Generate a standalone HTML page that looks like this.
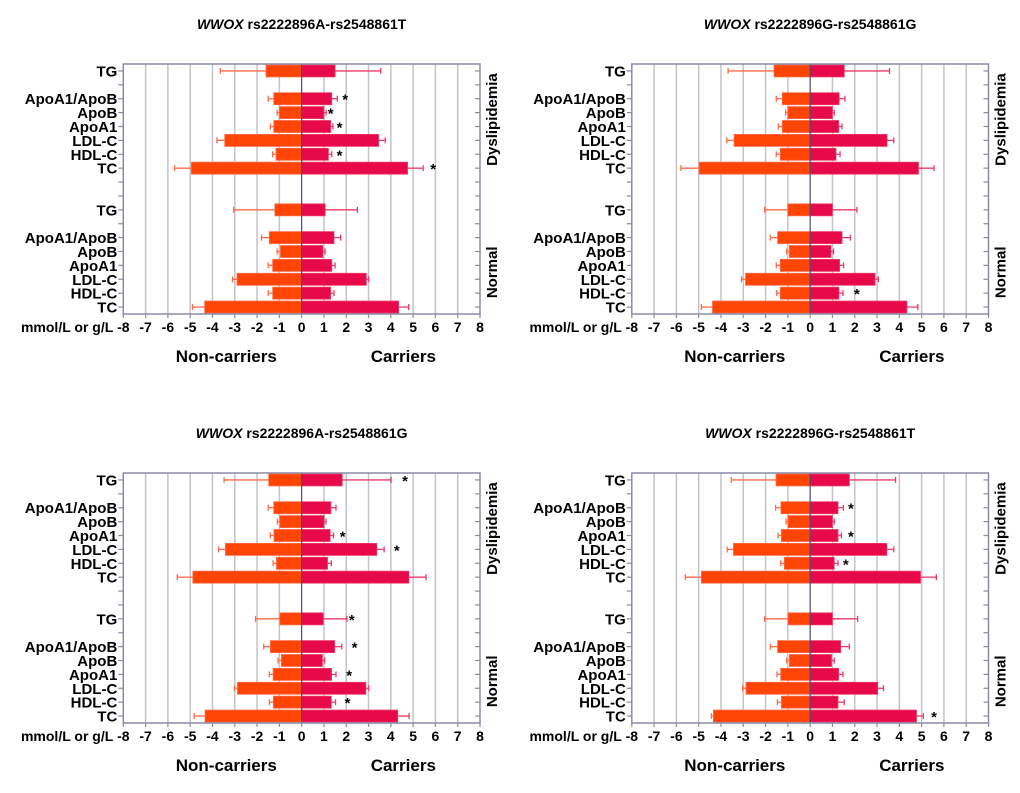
<!DOCTYPE html>
<html><head><meta charset="utf-8"><style>
body{margin:0;background:#fff;}
svg{display:block;font-family:"Liberation Sans",Arial,sans-serif;}
</style></head><body>
<svg id="fig" width="1020" height="793" viewBox="0 0 1020 793"></svg>
<script>
const categories=["TG","ApoA1/ApoB","ApoB","ApoA1","LDL-C","HDL-C","TC","TG","ApoA1/ApoB","ApoB","ApoA1","LDL-C","HDL-C","TC"];
const slots=[0,2,3,4,5,6,7,10,12,13,14,15,16,17];
const xTicks=[-8,-7,-6,-5,-4,-3,-2,-1,0,1,2,3,4,5,6,7,8];
const titles=["rs2222896A-rs2548861T","rs2222896G-rs2548861G","rs2222896A-rs2548861G","rs2222896G-rs2548861T"];
// panel 1 (top-left)
const p1Non=[-1.6,-1.25,-1.0,-1.25,-3.45,-1.15,-4.95,-1.2,-1.45,-0.95,-1.3,-2.9,-1.3,-4.35];
const p1NonErr=[-3.65,-1.5,-1.1,-1.4,-3.8,-1.3,-5.7,-3.05,-1.8,-1.1,-1.5,-3.1,-1.5,-4.9];
const p1Car=[1.5,1.35,1.0,1.3,3.45,1.2,4.75,1.05,1.45,0.95,1.35,2.9,1.3,4.35];
const p1CarErr=[3.55,1.6,1.1,1.4,3.75,1.35,5.45,2.5,1.75,1.05,1.5,3.0,1.45,4.8];
const p1Star=[null,1.95,1.3,1.7,null,1.7,5.9,null,null,null,null,null,null,null];
// panel 2 (top-right)
const p2Non=[-1.62,-1.25,-1.0,-1.25,-3.41,-1.34,-4.98,-1.0,-1.46,-0.93,-1.34,-2.9,-1.34,-4.38];
const p2NonErr=[-3.68,-1.52,-1.1,-1.43,-3.74,-1.52,-5.8,-2.04,-1.79,-1.05,-1.52,-3.08,-1.5,-4.88];
const p2Car=[1.53,1.3,1.0,1.28,3.45,1.16,4.86,1.0,1.43,0.93,1.32,2.91,1.29,4.34];
const p2CarErr=[3.56,1.56,1.08,1.43,3.75,1.34,5.56,2.1,1.8,1.05,1.5,3.06,1.47,4.83];
const p2Star=[null,null,null,null,null,null,null,null,null,null,null,null,2.1,null];
// panel 3 (bottom-left)
const p3Non=[-1.48,-1.25,-0.98,-1.24,-3.42,-1.13,-4.88,-0.98,-1.4,-0.91,-1.28,-2.88,-1.27,-4.33];
const p3NonErr=[-3.48,-1.5,-1.09,-1.4,-3.73,-1.28,-5.58,-2.07,-1.7,-1.06,-1.45,-3.01,-1.45,-4.82];
const p3Car=[1.82,1.31,1.01,1.28,3.37,1.16,4.81,0.97,1.48,0.93,1.34,2.88,1.33,4.31];
const p3CarErr=[4.01,1.54,1.09,1.43,3.7,1.33,5.58,2.03,1.8,1.03,1.54,3.0,1.52,4.82];
const p3Star=[4.64,null,null,1.84,4.27,null,null,2.25,2.37,null,2.13,null,2.06,null];
// panel 4 (bottom-right)
const p4Non=[-1.53,-1.31,-0.99,-1.29,-3.44,-1.16,-4.88,-0.99,-1.46,-0.93,-1.32,-2.88,-1.29,-4.34];
const p4NonErr=[-3.54,-1.55,-1.08,-1.44,-3.72,-1.32,-5.6,-2.04,-1.79,-1.05,-1.49,-3.03,-1.47,-4.43];
const p4Car=[1.76,1.25,1.0,1.25,3.44,1.08,4.95,1.0,1.37,0.96,1.28,3.03,1.25,4.77];
const p4CarErr=[3.83,1.49,1.08,1.4,3.75,1.25,5.66,2.13,1.76,1.08,1.47,3.29,1.53,5.08];
const p4Star=[null,1.83,null,1.83,null,1.6,null,null,null,null,null,null,null,5.56];

const panels=[
 {ox:0,oy:0,non:p1Non,nonErr:p1NonErr,car:p1Car,carErr:p1CarErr,star:p1Star},
 {ox:508.5,oy:0,non:p2Non,nonErr:p2NonErr,car:p2Car,carErr:p2CarErr,star:p2Star},
 {ox:0,oy:409,non:p3Non,nonErr:p3NonErr,car:p3Car,carErr:p3CarErr,star:p3Star},
 {ox:508.5,oy:409,non:p4Non,nonErr:p4NonErr,car:p4Car,carErr:p4CarErr,star:p4Star}
];
const NS="http://www.w3.org/2000/svg";
const svg=document.getElementById('fig');
function mk(tag,attrs,parent,text){const e=document.createElementNS(NS,tag);for(const k in attrs)e.setAttribute(k,attrs[k]);if(text!==undefined)e.textContent=text;parent.appendChild(e);return e;}

panels.forEach((p,pi)=>{
 const L=123.3+p.ox,R=480+p.ox,T=64+p.oy,B=314+p.oy;
 const sx=v=>L+(v+8)/16*(R-L);
 const sy=s=>T+(s+0.5)/18*(B-T);
 const g=mk('g',{},svg);
 
 
 const cx=(L+R)/2;
 const t=mk('text',{x:cx,y:29+p.oy,'text-anchor':'middle','font-size':'14','font-weight':'bold'},g);
 
 
 const ti=mk('tspan',{'font-style':'italic'},t,'WWOX');
 mk('tspan',{},t,' '+titles[pi]);
 // grid
 xTicks.forEach(v=>{
  if(v!==0&&v!==-8&&v!==8){const gl=mk('line',{x1:sx(v),x2:sx(v),y1:T,y2:B,stroke:'#c4c4c8','stroke-width':1.5},g);
  
  }
  const tl=mk('text',{x:sx(v),y:B+18,'text-anchor':'middle','font-size':'14','font-weight':'bold'},g,String(v));
  
  
  mk('line',{x1:sx(v),x2:sx(v),y1:B,y2:B+4,stroke:'#8a8aa8','stroke-width':1.2},g);
 });
 const u=mk('text',{x:L-10,y:B+18,'text-anchor':'end','font-size':'14','font-weight':'bold'},g,'mmol/L or g/L');
 
 
 // slot ticks
 for(let s=0;s<18;s++){
  mk('line',{x1:L-5,x2:L,y1:sy(s),y2:sy(s),stroke:'#8a8aa8','stroke-width':1.2},g);
  mk('line',{x1:R-5,x2:R,y1:sy(s),y2:sy(s),stroke:'#8a8aa8','stroke-width':1.2},g);
 }
 const bh=12;
 categories.forEach((c,i)=>{
  const y=sy(slots[i]);
  const cl=mk('text',{x:L-6,y:y+5.5,'text-anchor':'end','font-size':'15','font-weight':'bold'},g,c);
  
  
  // noncarrier
  const e1=mk('line',{x1:sx(p.nonErr[i]),x2:sx(p.non[i]),y1:y,y2:y,stroke:'#ff6a48','stroke-width':1.3},g);
  
  
  mk('line',{x1:sx(p.nonErr[i]),x2:sx(p.nonErr[i]),y1:y-3,y2:y+3,stroke:'#ff6a48','stroke-width':1.3},g);
  const b1=mk('rect',{x:sx(p.non[i]),y:y-bh/2,width:sx(0)-sx(p.non[i]),height:bh,fill:'#ff4506',stroke:'#ff6a48','stroke-width':0.8},g);
  
  
  const e2=mk('line',{x1:sx(p.car[i]),x2:sx(p.carErr[i]),y1:y,y2:y,stroke:'#ec3a66','stroke-width':1.3},g);
  
  
  mk('line',{x1:sx(p.carErr[i]),x2:sx(p.carErr[i]),y1:y-3,y2:y+3,stroke:'#ec3a66','stroke-width':1.3},g);
  const b2=mk('rect',{x:sx(0),y:y-bh/2,width:sx(p.car[i])-sx(0),height:bh,fill:'#e8094a',stroke:'#ec3a66','stroke-width':0.8},g);
  
  
  if(p.star[i]!==null){
   const st=mk('text',{x:sx(p.star[i]),y:y+6,'text-anchor':'middle','font-size':'15','font-weight':'bold'},g,'*');
   
   
  }
 });
 mk('line',{x1:sx(0),x2:sx(0),y1:T,y2:B,stroke:'#4a4a78','stroke-width':1.2},g);
 const fr=mk('rect',{x:L,y:T,width:R-L,height:B-T,fill:'none',stroke:'#8a8aa8','stroke-width':1.5},g);
 
 
 const d=mk('text',{x:0,y:0,transform:`translate(${R+17},${sy(3.5)}) rotate(-90)`,'text-anchor':'middle','font-size':'15','font-weight':'bold'},g,'Dyslipidemia');
 
 
 const n=mk('text',{x:0,y:0,transform:`translate(${R+17},${sy(14.5)}) rotate(-90)`,'text-anchor':'middle','font-size':'15','font-weight':'bold'},g,'Normal');
 
 
 const nc=mk('text',{x:L+103,y:B+48,'text-anchor':'middle','font-size':'17','font-weight':'bold'},g,'Non-carriers');
 
 
 const ca=mk('text',{x:L+280,y:B+48,'text-anchor':'middle','font-size':'17','font-weight':'bold'},g,'Carriers');
 
 
});
</script>
</body></html>
